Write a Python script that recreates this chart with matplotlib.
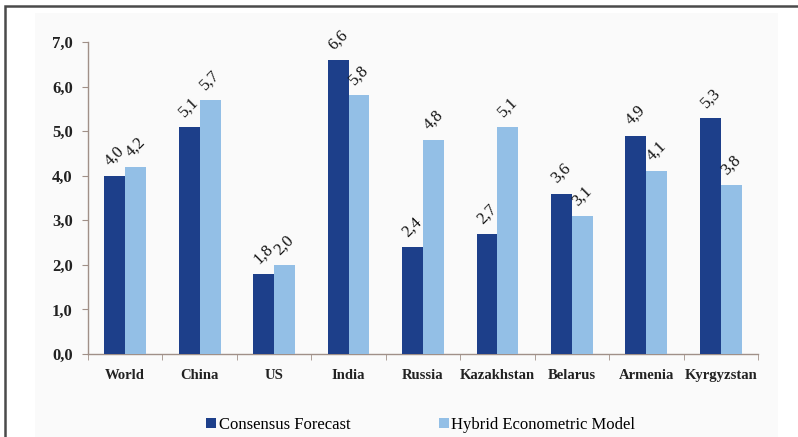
import matplotlib.pyplot as plt
import matplotlib.patches as patches
import numpy as np

countries = ['World', 'China', 'US', 'India', 'Russia', 'Kazakhstan', 'Belarus', 'Armenia', 'Kyrgyzstan']
consensus = [4.0, 5.1, 1.8, 6.6, 2.4, 2.7, 3.6, 4.9, 5.3]
hybrid = [4.2, 5.7, 2.0, 5.8, 4.8, 5.1, 3.1, 4.1, 3.8]
series_names = ['Consensus Forecast', 'Hybrid Econometric Model']

dark = '#1d3f8a'
light = '#93bfe6'
axis_col = '#a09088'

plt.rcParams['font.family'] = ['Liberation Serif', 'DejaVu Serif']

fig = plt.figure(figsize=(7.98, 4.37), dpi=100)
fig.patch.set_facecolor('white')

# light panel and outer frame like the source document
fig.add_artist(patches.Rectangle((35/798, -0.1), (778-35)/798, 1 - 13/437 + 0.1,
                                 transform=fig.transFigure, facecolor='#fafafa',
                                 edgecolor='none', zorder=0))
fig.add_artist(patches.Rectangle((5/798, -0.1), 1.1, 1 - 6/437 + 0.1,
                                 transform=fig.transFigure, facecolor='none',
                                 edgecolor='#4a4a4a', linewidth=1.8, zorder=1,
                                 clip_on=False))

ax = fig.add_axes([88/798, 1 - 354/437, (758-88)/798, (354-42)/437])
ax.set_facecolor('none')

x = np.arange(len(countries))
w = 0.28
b1 = ax.bar(x - w/2, consensus, w, color=dark, label=series_names[0], zorder=3)
b2 = ax.bar(x + w/2, hybrid, w, color=light, label=series_names[1], zorder=3)

for bars, vals in ((b1, consensus), (b2, hybrid)):
    for r, v in zip(bars, vals):
        ax.annotate(f'{v:.1f}'.replace('.', ','),
                    (r.get_x() + r.get_width()/2, r.get_height()),
                    xytext=(0, 5), textcoords='offset points',
                    ha='center', va='bottom', rotation=45, fontsize=12,
                    color='#111111')

ax.set_xlim(-0.5, len(countries) - 0.5)
ax.set_ylim(0, 7)
ax.set_yticks(np.arange(0, 7.1, 1))
ax.set_yticklabels([f'{t:.1f}'.replace('.', ',') for t in np.arange(0, 7.1, 1)],
                   fontweight='bold')
ax.set_xticks(x)
ax.set_xticklabels(countries, fontweight='bold')
ax.set_xticks(np.arange(-0.5, len(countries), 1), minor=True)

for s in ['top', 'right']:
    ax.spines[s].set_visible(False)
for s in ['left', 'bottom']:
    ax.spines[s].set_color(axis_col)
    ax.spines[s].set_linewidth(1.0)

ax.tick_params(axis='y', length=4, color=axis_col, pad=7, labelsize=12, labelcolor='#222222')
ax.tick_params(axis='x', which='major', length=0, pad=11, labelsize=10.5, labelcolor='#222222')
ax.tick_params(axis='x', which='minor', length=4, color=axis_col)

fig.legend(handles=[b1, b2], labels=series_names, loc='center',
           bbox_to_anchor=(0.527, 1 - 425/437), ncol=2, frameon=False,
           fontsize=12, handlelength=0.6, handleheight=0.6, handletextpad=0.15,
           columnspacing=5.3)

fig.savefig('out.png', dpi=100)
